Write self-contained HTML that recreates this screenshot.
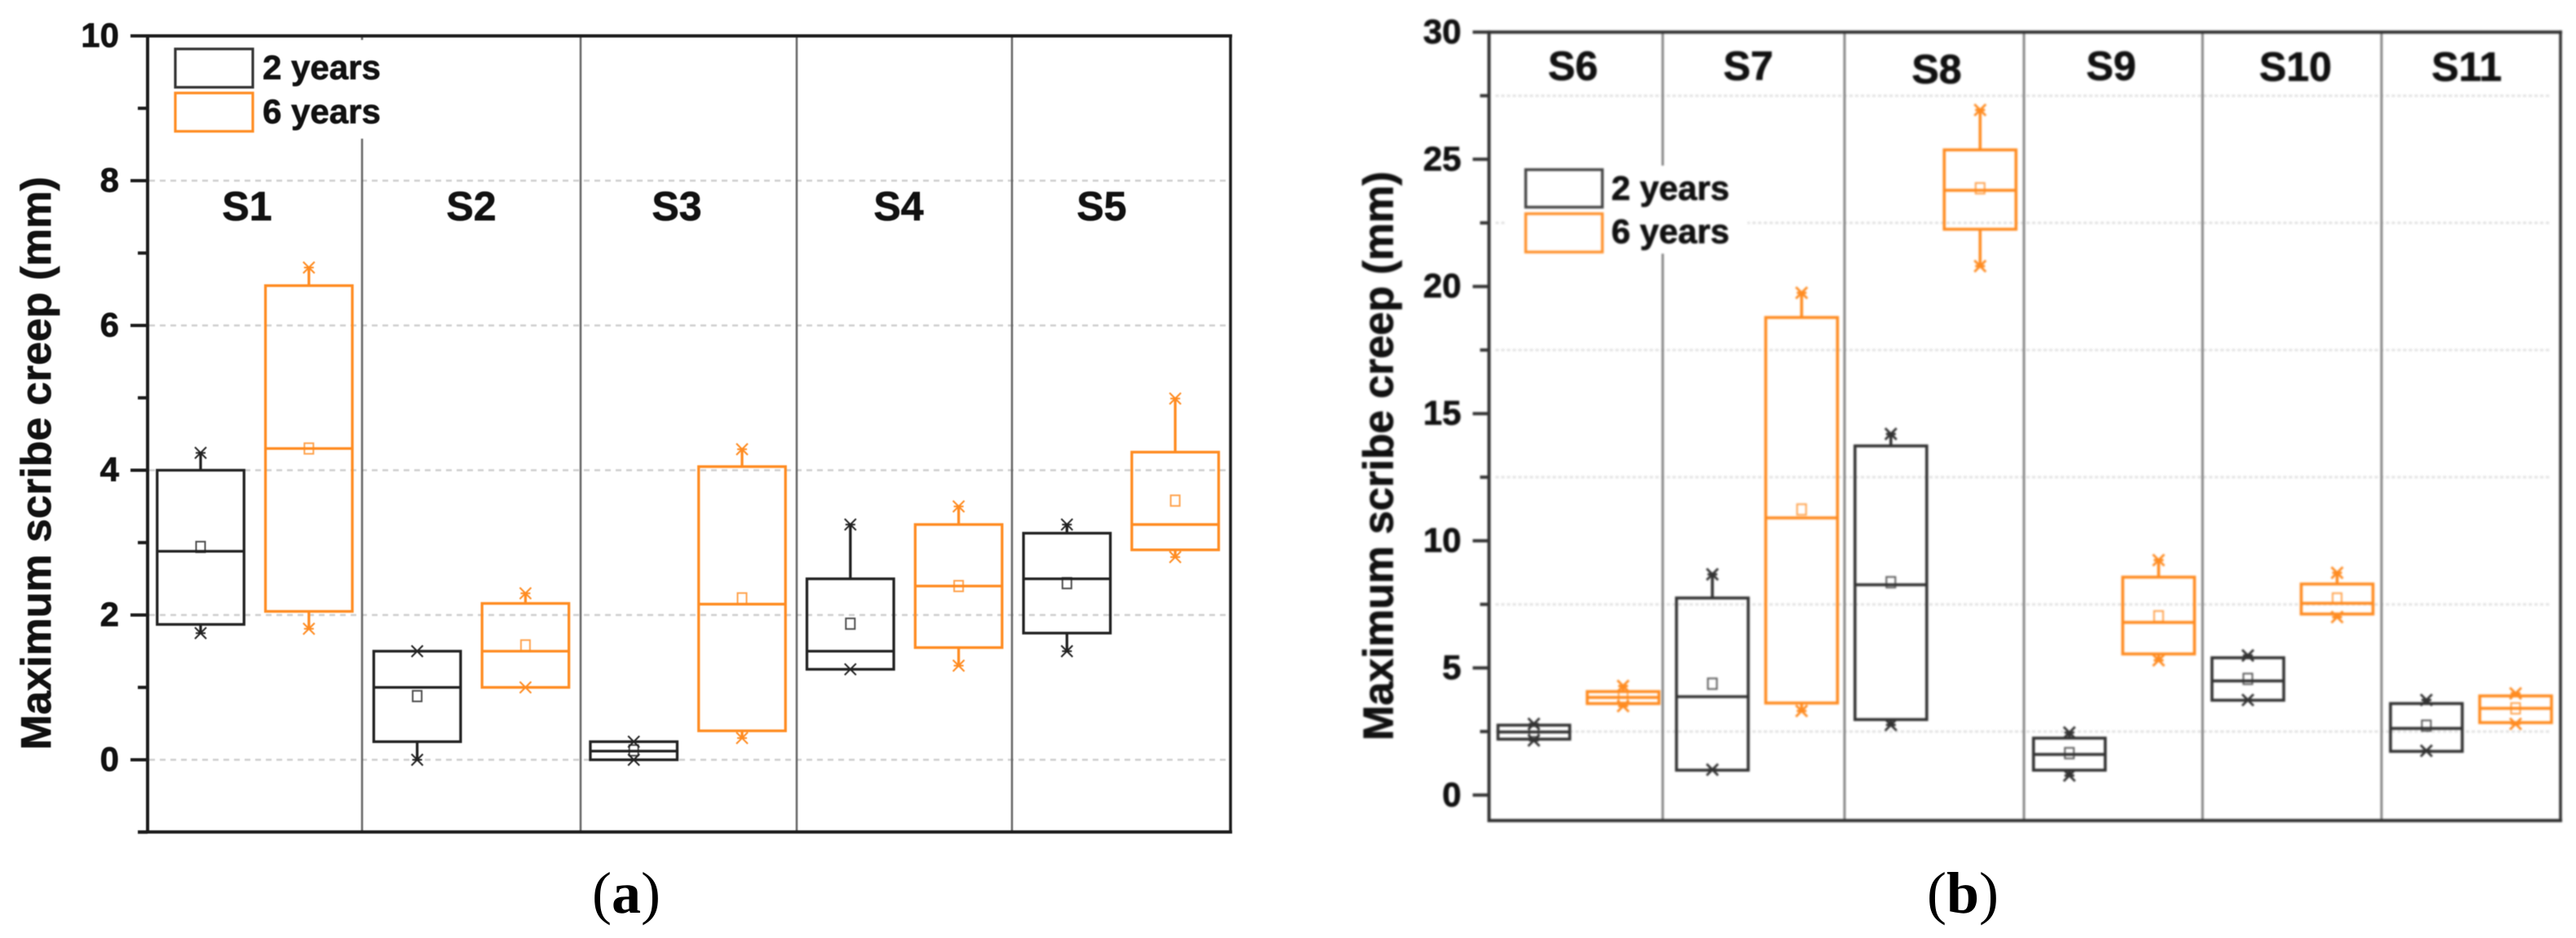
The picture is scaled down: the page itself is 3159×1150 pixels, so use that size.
<!DOCTYPE html>
<html lang="en">
<head>
<meta charset="utf-8">
<title>Maximum scribe creep box plots</title>
<style>
html,body{margin:0;padding:0;background:#fff;}
svg{display:block;}
text{font-family:"Liberation Sans",Arial,sans-serif;font-weight:bold;fill:#111;stroke:#111;stroke-width:0.7px;}
.caption{font-family:"Liberation Serif","Times New Roman",serif;font-size:72px;font-weight:normal;fill:#000;stroke:none;}
.caption tspan{font-weight:bold;}
.leg{font-size:42px;}
.cat{font-size:50px;}
.axt{font-size:52px;}
.div{stroke:#666;stroke-width:2.5;}
</style>
</head>
<body>
<svg id="fig" xmlns="http://www.w3.org/2000/svg" width="3159" height="1150" viewBox="0 0 3159 1150">
  <rect width="3159" height="1150" fill="#fff"/>

  <g id="chartA" style="filter:blur(0.6px)">
    <g id="gridA"></g>
    <g>
      <line class="div" x1="444" x2="444" y1="44" y2="1020"/>
      <line class="div" x1="712" x2="712" y1="44" y2="1020"/>
      <line class="div" x1="977" x2="977" y1="44" y2="1020"/>
      <line class="div" x1="1241" x2="1241" y1="44" y2="1020"/>
    </g>
    <g id="boxesA"></g>
    <g>
      <rect x="205" y="49" width="265" height="121" fill="#fff"/>
      <rect x="215" y="60" width="95" height="47" fill="none" stroke="#333" stroke-width="3.2"/>
      <rect x="215" y="114" width="95" height="47" fill="none" stroke="#ff8c22" stroke-width="3.2"/>
      <text class="leg" x="322" y="97">2 years</text>
      <text class="leg" x="322" y="151">6 years</text>
    </g>
    <g id="axesA"></g>
    <g>
      <text class="cat" x="303" y="270" text-anchor="middle">S1</text>
      <text class="cat" x="578" y="270" text-anchor="middle">S2</text>
      <text class="cat" x="830" y="270" text-anchor="middle">S3</text>
      <text class="cat" x="1102" y="270" text-anchor="middle">S4</text>
      <text class="cat" x="1351" y="270" text-anchor="middle">S5</text>
    </g>
    <text class="axt" transform="translate(62,568) rotate(-90)" text-anchor="middle" textLength="703">Maximum scribe creep (mm)</text>
  </g>

  <g id="chartB" style="filter:blur(1.1px)">
    <g id="gridB"></g>
    <g>
      <line class="div" x1="2039" x2="2039" y1="39" y2="1006" style="stroke:#888;stroke-width:3"/>
      <line class="div" x1="2262" x2="2262" y1="39" y2="1006" style="stroke:#888;stroke-width:3"/>
      <line class="div" x1="2482" x2="2482" y1="39" y2="1006" style="stroke:#888;stroke-width:3"/>
      <line class="div" x1="2701" x2="2701" y1="39" y2="1006" style="stroke:#888;stroke-width:3"/>
      <line class="div" x1="2920.5" x2="2920.5" y1="39" y2="1006" style="stroke:#888;stroke-width:3"/>
    </g>
    <g id="boxesB"></g>
    <g>
      <rect x="1847" y="203" width="296" height="108" fill="#fff"/>
      <rect x="1871" y="208" width="94" height="46" fill="none" stroke="#444" stroke-width="3.4"/>
      <rect x="1871" y="262" width="94" height="47" fill="none" stroke="#ff922e" stroke-width="3.4"/>
      <text class="leg" x="1976" y="245">2 years</text>
      <text class="leg" x="1976" y="298">6 years</text>
    </g>
    <g id="axesB"></g>
    <g>
      <text class="cat" x="1929" y="98" text-anchor="middle">S6</text>
      <text class="cat" x="2144" y="98" text-anchor="middle">S7</text>
      <text class="cat" x="2375" y="102" text-anchor="middle">S8</text>
      <text class="cat" x="2589" y="98" text-anchor="middle">S9</text>
      <text class="cat" x="2815" y="99" text-anchor="middle">S10</text>
      <text class="cat" x="3025" y="99" text-anchor="middle">S11</text>
    </g>
    <text class="axt" transform="translate(1708,559) rotate(-90)" text-anchor="middle" textLength="698">Maximum scribe creep (mm)</text>
  </g>

  <text class="caption" x="768" y="1119" text-anchor="middle">(<tspan>a</tspan>)</text>
  <text class="caption" x="2407" y="1119" text-anchor="middle">(<tspan>b</tspan>)</text>
</svg>

<script>
// ---- Chart (a) data: S1..S5 ----
const groupsA = ['s1','s2','s3','s4','s5'];
const majorTicksA = [0,2,4,6,8,10];
const minorTicksA = [-1,1,3,5,7,9];
const gridValuesA = [0,2,4,6,8];
const a2Max  = [4.24,1.50,0.25,3.25,3.25];
const a2Q3   = [4.00,1.50,0.25,2.50,3.13];
const a2Med  = [2.88,1.00,0.12,1.50,2.50];
const a2Q1   = [1.87,0.25,0.00,1.25,1.75];
const a2Min  = [1.75,0.00,0.00,1.25,1.50];
const a2Mean = [2.94,0.88,0.13,1.88,2.44];
const a6Max  = [6.80,2.30,4.29,3.50,4.99];
const a6Q3   = [6.55,2.16,4.05,3.25,4.25];
const a6Med  = [4.30,1.50,2.15,2.40,3.25];
const a6Q1   = [2.05,1.00,0.40,1.55,2.90];
const a6Min  = [1.81,1.00,0.30,1.30,2.80];
const a6Mean = [4.30,1.58,2.23,2.40,3.58];

// ---- Chart (b) data: S6..S11 ----
const groupsB = ['s6','s7','s8','s9','s10','s11'];
const majorTicksB = [0,5,10,15,20,25,30];
const minorTicksB = [2.5,7.5,12.5,17.5,22.5,27.5];
const gridValuesB = [2.5,7.5,12.5,17.5,22.5,27.5];
const b2Max  = [2.80,8.68,14.20,2.46,5.49,3.74];
const b2Q3   = [2.75,7.75,13.73,2.24,5.40,3.60];
const b2Med  = [2.48,3.87,8.27,1.60,4.49,2.62];
const b2Q1   = [2.20,0.98,2.97,0.98,3.73,1.72];
const b2Min  = [2.15,1.00,2.76,0.77,3.74,1.74];
const b2Mean = [2.50,4.38,8.37,1.65,4.57,2.73];
const b6Max  = [4.29,19.75,26.94,9.24,8.74,4.00];
const b6Q3   = [4.07,18.78,25.37,8.57,8.30,3.90];
const b6Med  = [3.84,10.90,23.78,6.79,7.54,3.41];
const b6Q1   = [3.60,3.62,22.25,5.55,7.12,2.85];
const b6Min  = [3.50,3.31,20.80,5.30,7.00,2.80];
const b6Mean = [3.85,11.23,23.86,7.03,7.73,3.41];

// ---- axis functions ----
function yA(v){ return 931.5 - 88.75 * v; }
function xA(i){ return 246 + 132.8 * i; }
function yB(v){ return 974.8 - 31.18 * v; }
function xB(i){ return 1881 + 109.45 * i; }

const NS = 'http://www.w3.org/2000/svg';
function mk(tag, attrs, parent){
  const el = document.createElementNS(NS, tag);
  for (const k in attrs) el.setAttribute(k, attrs[k]);
  parent.appendChild(el);
  return el;
}

function drawBoxes(host, groups, x, y, boxW, sw, mkSw, colors, series){
  // series: [[max,q3,med,q1,min,mean] for 2 years, [...] for 6 years]
  groups.forEach(function(g, gi){
    series.forEach(function(s, si){
      const i = gi * 2 + si;
      const yr = si === 0 ? '2y' : '6y';
      const c = colors[si];
      const cx = x(i);
      const top = y(s[1][gi]), mid = y(s[2][gi]), bot = y(s[3][gi]);
      const hi = y(s[0][gi]), lo = y(s[4][gi]), mean = y(s[5][gi]);

      const grp = mk('g', {}, host);
      
      

      const wu = mk('line', {x1:cx, x2:cx, y1:top, y2:hi, stroke:c, 'stroke-width':sw}, grp);
      
      

      const wl = mk('line', {x1:cx, x2:cx, y1:bot, y2:lo, stroke:c, 'stroke-width':sw}, grp);
      
      

      const box = mk('rect', {x:cx - boxW/2, y:top, width:boxW, height:bot - top, fill:'none', stroke:c, 'stroke-width':sw}, grp);
      
      

      const med = mk('line', {x1:cx - boxW/2, x2:cx + boxW/2, y1:mid, y2:mid, stroke:c, 'stroke-width':sw}, grp);
      
      

      const mm = mk('rect', {x:cx - 5.5, y:mean - 6.5, width:11, height:13, fill:'none', stroke:c, 'stroke-width':2, opacity:0.8}, grp);
      
      

      [hi, lo].forEach(function(py, k){
        const d = 'M' + (cx-7) + ' ' + (py-7) + 'L' + (cx+7) + ' ' + (py+7) +
                  'M' + (cx+7) + ' ' + (py-7) + 'L' + (cx-7) + ' ' + (py+7) +
                  'M' + (cx-6) + ' ' + py + 'L' + (cx+6) + ' ' + py;
        const star = mk('path', {d:d, fill:'none', stroke:c, 'stroke-width':mkSw}, grp);
        
        
      });
    });
  });
}

function drawGrid(host, values, y, x1, x2, stroke, dash, sw){
  values.forEach(function(v){
    const l = mk('line', {x1:x1, x2:x2, y1:y(v), y2:y(v), stroke:stroke, 'stroke-width':sw, 'stroke-dasharray':dash}, host);
    
    
  });
}

function drawAxes(host, y, left, right, top, bottom, majors, minors, color, majorLen, minorLen, labelX, bottomExtra){
  const c = {stroke:color, 'stroke-width':4};
  const la = mk('line', Object.assign({x1:left, x2:left, y1:top - 2, y2:bottom + 2}, c), host);
  
  

  const ra = mk('line', {x1:right, x2:right, y1:top - 2, y2:bottom + 2, stroke:color, 'stroke-width':3.5}, host);
  
  

  const ta = mk('line', Object.assign({x1:left, x2:right + 2, y1:top, y2:top}, c), host);
  
  

  const ba = mk('line', Object.assign({x1:left - bottomExtra, x2:right + 2, y1:bottom, y2:bottom}, c), host);
  
  

  majors.forEach(function(v){
    const t = mk('line', Object.assign({x1:left - majorLen, x2:left, y1:y(v), y2:y(v)}, c), host);
    
    

    const lb = mk('text', {x:labelX, y:y(v) + 13.5, 'text-anchor':'end', 'font-size':42}, host);
    lb.textContent = String(v);
    
    
  });
  minors.forEach(function(v){
    const t = mk('line', Object.assign({x1:left - minorLen, x2:left, y1:y(v), y2:y(v)}, c), host);
    
    
  });
}

drawGrid(document.getElementById('gridA'), gridValuesA, yA, 183, 1505, '#cfcfcf', '7 6', 2.5);
drawBoxes(document.getElementById('boxesA'), groupsA, xA, yA, 106.5, 3.3, 2, ['#222222','#ff8c22'],
  [[a2Max,a2Q3,a2Med,a2Q1,a2Min,a2Mean],[a6Max,a6Q3,a6Med,a6Q1,a6Min,a6Mean]]);
drawAxes(document.getElementById('axesA'), yA, 181, 1509, 44, 1020, majorTicksA, minorTicksA, '#1c1c1c', 21, 12, 146, 12);

drawGrid(document.getElementById('gridB'), gridValuesB, yB, 1834, 3129, '#e2e2e2', '4 3', 3);
drawBoxes(document.getElementById('boxesB'), groupsB, xB, yB, 88, 3.6, 2.8, ['#333333','#ff8c22'],
  [[b2Max,b2Q3,b2Med,b2Q1,b2Min,b2Mean],[b6Max,b6Q3,b6Med,b6Q1,b6Min,b6Mean]]);
drawAxes(document.getElementById('axesB'), yB, 1826, 3140, 39.4, 1006, majorTicksB, minorTicksB, '#333333', 20, 11, 1792, 0);
</script>
</body>
</html>
